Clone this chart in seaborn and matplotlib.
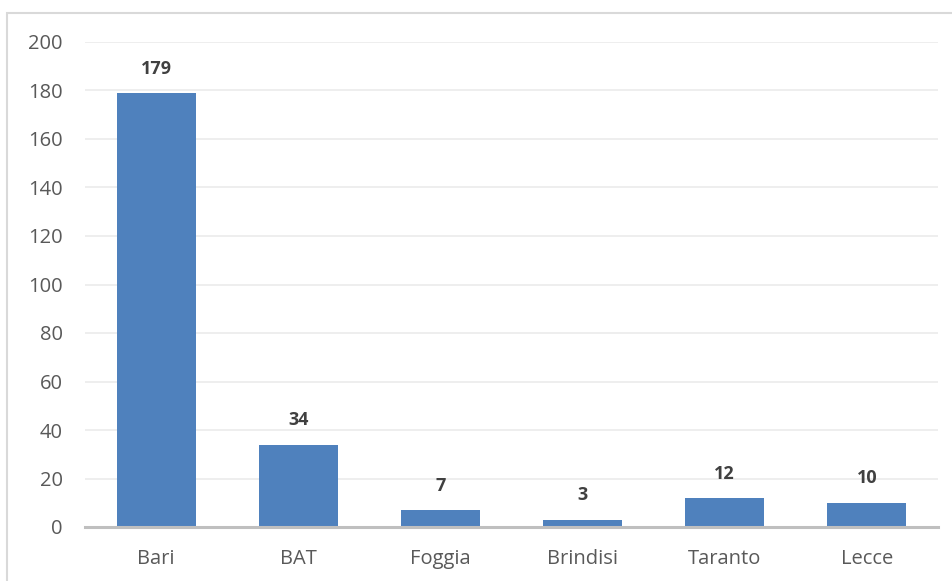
"""
Bar chart of counts by province (Puglia).
"""

import matplotlib
matplotlib.use("Agg")
import matplotlib.pyplot as plt
import seaborn as sns
import pandas as pd
from matplotlib.patches import Rectangle

provinces = ["Bari", "BAT", "Foggia", "Brindisi", "Taranto", "Lecce"]
counts = [179, 34, 7, 3, 12, 10]
y_ticks = [0, 20, 40, 60, 80, 100, 120, 140, 160, 180, 200]

BAR_COLOR = "#4F81BD"
TEXT_COLOR = "#595959"


def main():
    sns.set_style("white")
    plt.rcParams["font.family"] = ["Open Sans", "DejaVu Sans"]

    df = pd.DataFrame({"provincia": provinces, "valore": counts})

    fig = plt.figure(figsize=(9.53, 5.81), dpi=100)
    ax = fig.add_axes([85 / 953, 1 - 527 / 581, (938 - 85) / 953, (527 - 42) / 581])

    sns.barplot(data=df, x="provincia", y="valore", color=BAR_COLOR, saturation=1,
                width=0.555, ax=ax, edgecolor="none")

    ax.set_ylim(0, 200)
    ax.set_xlim(-0.5, len(provinces) - 0.5)
    ax.set_yticks(y_ticks)
    ax.yaxis.grid(True, color="#EDEDED", linewidth=1.3)
    ax.set_axisbelow(True)
    for side in ["left", "right", "top"]:
        ax.spines[side].set_visible(False)
    ax.spines["bottom"].set_color("#BFBFBF")
    ax.spines["bottom"].set_linewidth(2.2)
    ax.spines["bottom"].set_zorder(5)

    ax.tick_params(axis="both", length=0, labelsize=14.5, colors=TEXT_COLOR)
    ax.tick_params(axis="y", pad=16)
    ax.tick_params(axis="x", pad=16)
    for lbl in ax.get_xticklabels():
        lbl.set_fontstretch("expanded")
    ax.set_xlabel("")
    ax.set_ylabel("")

    for i, v in enumerate(counts):
        ax.annotate(str(v), (i, v), xytext=(0, 11), textcoords="offset points",
                    ha="center", va="bottom", fontsize=13, fontweight="bold",
                    color="#404040")

    # light chart-area border (only top and left visible in the crop)
    fig.patches.append(Rectangle((7 / 953, -0.1), 1.2, 1.1 - 13 / 581,
                                 transform=fig.transFigure, fill=False,
                                 edgecolor="#D9D9D9", linewidth=1.5))

    fig.savefig("out.png", dpi=100)
    plt.close(fig)


if __name__ == "__main__":
    main()
